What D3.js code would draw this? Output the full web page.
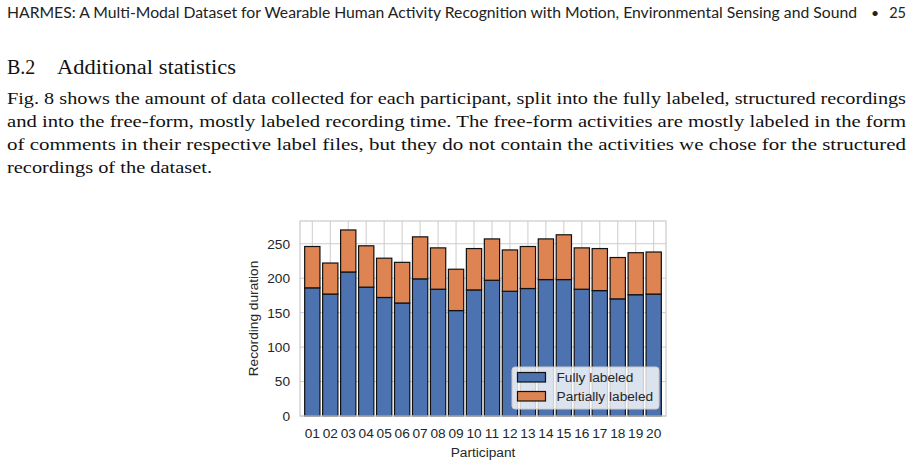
<!DOCTYPE html>
<html>
<head>
    <title>Recording duration per participant</title>
    <script src="https://d3js.org/d3.v7.min.js"></script>
    <style>
        body { margin: 0; background: #fff; }
    </style>
</head>
<body>
    <svg width="914" height="466" id="mainSvg"></svg>
    <script>
        // data
        const participants = ['01','02','03','04','05','06','07','08','09','10',
                              '11','12','13','14','15','16','17','18','19','20'];
        const fully   = [186,177,209,187,172,164,199,184,153,183,197,181,185,198,198,184,182,170,176,177];
        const partial = [ 60, 45, 61, 60, 57, 59, 61, 60, 60, 60, 60, 60, 61, 59, 65, 60, 61, 60, 61, 61];
        const yTicks = [0, 50, 100, 150, 200, 250];
        const seriesNames = ['Fully labeled', 'Partially labeled'];
        const seriesColors = ['#4c72b0', '#dd8452'];

        const headerText = 'HARMES: A Multi-Modal Dataset for Wearable Human Activity Recognition with Motion, Environmental Sensing and Sound';
        const bodyLines = [
            'Fig. 8 shows the amount of data collected for each participant, split into the fully labeled, structured recordings',
            'and into the free-form, mostly labeled recording time. The free-form activities are mostly labeled in the form',
            'of comments in their respective label files, but they do not contain the activities we chose for the structured',
            'recordings of the dataset.'
        ];

        const svg = d3.select('#mainSvg');

        // ---- page text ----
        svg.append('text')
            .attr('x', 7).attr('y', 18)
            .attr('font-family', 'Lato, "Open Sans", sans-serif')
            .attr('font-size', 14.5)
            .attr('fill', '#222')
            .attr('textLength', 850).attr('lengthAdjust', 'spacingAndGlyphs')
            .text(headerText);
        svg.append('text')
            .attr('x', 875).attr('y', 18).attr('text-anchor', 'middle')
            .attr('font-family', 'Lato, sans-serif').attr('font-size', 14).attr('fill', '#222')
            .text('•');
        svg.append('text')
            .attr('x', 906).attr('y', 18).attr('text-anchor', 'end')
            .attr('font-family', 'Lato, sans-serif').attr('font-size', 14.5).attr('fill', '#222')
            .text('25');

        const serif = '"Liberation Serif", "DejaVu Serif", serif';
        svg.append('text')
            .attr('x', 7).attr('y', 74)
            .attr('font-family', serif).attr('font-size', 20).attr('fill', '#111')
            .text('B.2');
        svg.append('text')
            .attr('x', 57).attr('y', 74)
            .attr('font-family', serif).attr('font-size', 20).attr('fill', '#111')
            .attr('textLength', 179).attr('lengthAdjust', 'spacingAndGlyphs')
            .text('Additional statistics');

        const lineWidths = [899, 899, 899, 205];
        svg.selectAll('.bodyLine').data(bodyLines).join('text')
            .attr('class', 'bodyLine')
            .attr('x', 7)
            .attr('y', (d, i) => 104 + i * 23)
            .attr('font-family', serif).attr('font-size', 17.5).attr('fill', '#111')
            .attr('textLength', (d, i) => lineWidths[i])
            .attr('lengthAdjust', 'spacingAndGlyphs')
            .text(d => d);

        // ---- chart ----
        const plot = { left: 300, right: 666, top: 221, bottom: 416 };
        const font = '"Liberation Sans", Arial, sans-serif';
        const fs = 13.7;
        const textColor = '#262626';
        const gridColor = '#cccccc';

        const x = d3.scaleBand()
            .domain(participants)
            .range([plot.left, plot.right])
            .paddingInner(0.15)
            .paddingOuter(0.26);
        const y = d3.scaleLinear()
            .domain([0, 283])
            .range([plot.bottom, plot.top]);

        const g = svg.append('g').attr('id', 'chart');

        // grid
        g.selectAll('.hgrid').data(yTicks).join('line')
            .attr('class', 'hgrid')
            .attr('x1', plot.left).attr('x2', plot.right)
            .attr('y1', d => y(d)).attr('y2', d => y(d))
            .attr('stroke', gridColor).attr('stroke-width', 1);
        g.selectAll('.vgrid').data(participants).join('line')
            .attr('class', 'vgrid')
            .attr('x1', d => x(d) + x.bandwidth() / 2).attr('x2', d => x(d) + x.bandwidth() / 2)
            .attr('y1', plot.top).attr('y2', plot.bottom)
            .attr('stroke', gridColor).attr('stroke-width', 1);

        // bars
        const rows = participants.map((p, i) => ({ p: p, fully: fully[i], partial: partial[i] }));
        const stacked = d3.stack().keys(['fully', 'partial'])(rows);

        g.selectAll('.series').data(stacked).join('g')
            .attr('class', 'series')
            .attr('fill', (d, i) => seriesColors[i])
            .selectAll('rect').data(d => d).join('rect')
            .attr('x', d => x(d.data.p))
            .attr('y', d => y(d[1]))
            .attr('width', x.bandwidth())
            .attr('height', d => y(d[0]) - y(d[1]))
            .attr('stroke', '#111')
            .attr('stroke-width', 1.2);

        // frame
        g.append('rect')
            .attr('x', plot.left).attr('y', plot.top)
            .attr('width', plot.right - plot.left).attr('height', plot.bottom - plot.top)
            .attr('fill', 'none').attr('stroke', gridColor).attr('stroke-width', 1.25);

        // axes labels
        const yAxis = d3.axisLeft(y).tickValues(yTicks).tickSize(0).tickPadding(10);
        const yg = g.append('g').attr('transform', `translate(${plot.left},0)`).call(yAxis);
        const xAxis = d3.axisBottom(x).tickSize(0).tickPadding(12);
        const xg = g.append('g').attr('transform', `translate(0,${plot.bottom})`).call(xAxis);
        [yg, xg].forEach(a => {
            a.select('.domain').remove();
            a.selectAll('text').attr('font-family', font).attr('font-size', fs).attr('fill', textColor);
        });

        g.append('text')
            .attr('x', (plot.left + plot.right) / 2).attr('y', 456.5)
            .attr('text-anchor', 'middle')
            .attr('font-family', font).attr('font-size', fs).attr('fill', textColor)
            .text('Participant');
        g.append('text')
            .attr('transform', `translate(258, ${(plot.top + plot.bottom) / 2}) rotate(-90)`)
            .attr('text-anchor', 'middle')
            .attr('font-family', font).attr('font-size', fs).attr('fill', textColor)
            .text('Recording duration');

        // legend
        const lg = g.append('g').attr('transform', 'translate(512,367)');
        lg.append('rect')
            .attr('width', 147).attr('height', 42).attr('rx', 3)
            .attr('fill', 'white').attr('fill-opacity', 0.8)
            .attr('stroke', gridColor).attr('stroke-width', 1);
        const items = lg.selectAll('.item').data(seriesNames).join('g')
            .attr('class', 'item')
            .attr('transform', (d, i) => `translate(5.5, ${5.5 + i * 19})`);
        items.append('rect')
            .attr('width', 28).attr('height', 9.5)
            .attr('fill', (d, i) => seriesColors[i])
            .attr('stroke', '#111').attr('stroke-width', 1.2);
        items.append('text')
            .attr('x', 39).attr('y', 9.5)
            .attr('font-family', font).attr('font-size', fs).attr('fill', textColor)
            .text(d => d);
    </script>
</body>
</html>
